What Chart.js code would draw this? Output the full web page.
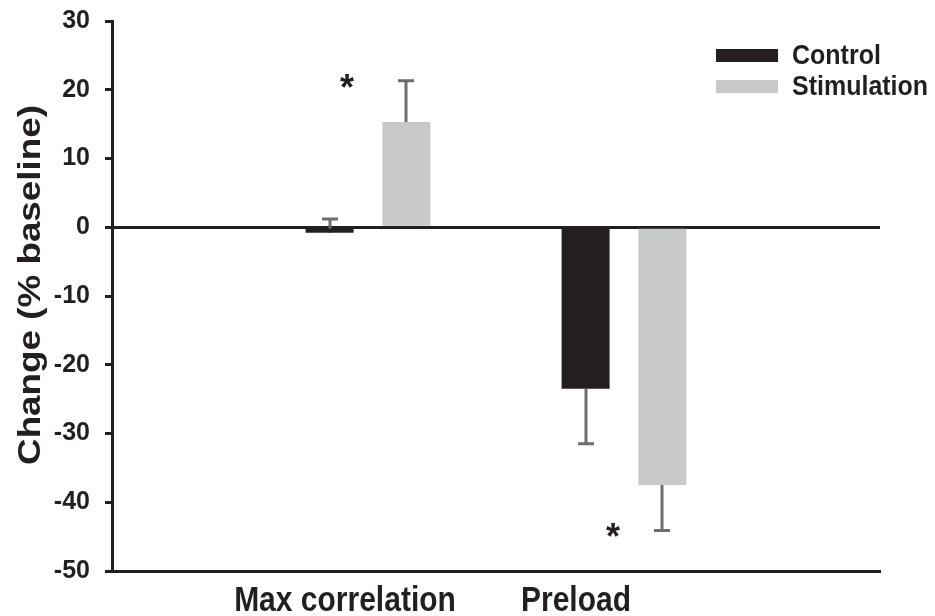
<!DOCTYPE html>
<html>
<head>
<meta charset="utf-8">
<script src="https://cdn.jsdelivr.net/npm/chart.js@4"></script>
<style>
  html, body { margin: 0; padding: 0; background: #ffffff; }
  #wrap { width: 935px; height: 616px; }
</style>
</head>
<body>
<div id="wrap"><canvas id="chart" width="935" height="616"></canvas></div>
<script>
// Percent change from baseline, per measure
const categories = ['Max correlation', 'Preload'];
const seriesNames = ['Control', 'Stimulation'];
const controlMean = [-0.8, -23.5];
const controlErr = [2.0, 8.0];
const stimMean = [15.3, -37.5];
const stimErr = [6.0, 6.6];
// error bars point up for Max correlation, down for Preload
const errDirection = [1, -1];
// significance markers (Stimulation vs Control)
const stimSignificant = [true, true];
const yTicks = [-50, -40, -30, -20, -10, 0, 10, 20, 30];

const INK = '#231f20';
const GREY = '#c8c9cb';
const ERR = '#6d6e71';
const FONT = "'Liberation Sans', Arial, Helvetica, sans-serif";
// the figure's lettering is slightly taller than it is wide
const STRETCH = 1.15;

// blank slots on both sides keep the two groups spaced evenly across the axis
const xLabels = [''].concat(categories, ['']);
const pad = arr => [null].concat(arr, [null]);

// horizontal nudges (px) for category captions and asterisks
const captionShift = [-23, -48];
const starShift = [-21, -11];

const errorBars = {
  id: 'errorBars',
  beforeDatasetsDraw(chart) {
    const ctx = chart.ctx;
    const y = chart.scales.y;
    const sets = [[controlMean, controlErr], [stimMean, stimErr]];
    ctx.save();
    ctx.strokeStyle = ERR;
    ctx.lineWidth = 3;
    sets.forEach(([means, errs], di) => {
      const meta = chart.getDatasetMeta(di);
      means.forEach((m, i) => {
        const bar = meta.data[i + 1];
        if (!bar) return;
        const x = Math.round(bar.x);
        const y0 = y.getPixelForValue(m);
        const y1 = y.getPixelForValue(m + errDirection[i] * errs[i]);
        ctx.beginPath();
        ctx.moveTo(x, y0);
        ctx.lineTo(x, y1);
        ctx.moveTo(x - 8, y1);
        ctx.lineTo(x + 8, y1);
        ctx.stroke();
      });
    });
    ctx.restore();
  }
};

const decorations = {
  id: 'decorations',
  afterDraw(chart) {
    const ctx = chart.ctx;
    const xs = chart.scales.x;
    const ys = chart.scales.y;
    ctx.save();
    ctx.fillStyle = INK;

    // category captions (baseline at y = 611)
    ctx.font = 'bold 30px ' + FONT;
    ctx.textAlign = 'center';
    ctx.textBaseline = 'alphabetic';
    categories.forEach((c, i) => {
      ctx.save();
      ctx.translate(xs.getPixelForValue(i + 1) + captionShift[i], 611);
      ctx.scale(1, STRETCH);
      ctx.fillText(c, 0, 0);
      ctx.restore();
    });

    // y axis title, reading bottom to top
    ctx.save();
    ctx.translate(31, 285);
    ctx.rotate(-Math.PI / 2);
    ctx.scale(STRETCH, 1);
    ctx.font = 'bold 32px ' + FONT;
    ctx.textAlign = 'center';
    ctx.textBaseline = 'middle';
    ctx.fillText('Change (% baseline)', 0, 0);
    ctx.restore();

    // significance asterisks at the level of the Stimulation error cap
    ctx.font = 'bold 36px ' + FONT;
    ctx.textAlign = 'center';
    ctx.textBaseline = 'alphabetic';
    const m = ctx.measureText('*');
    const half = (m.actualBoundingBoxAscent - m.actualBoundingBoxDescent) / 2;
    stimSignificant.forEach((sig, i) => {
      if (!sig) return;
      const v = stimMean[i] + errDirection[i] * stimErr[i];
      const cx = xs.getPixelForValue(i + 1) + starShift[i];
      const cy = ys.getPixelForValue(v);
      ctx.fillText('*', cx, cy + half);
    });

    // legend
    const colors = chart.data.datasets.map(d => d.backgroundColor);
    ctx.font = 'bold 25px ' + FONT;
    ctx.textAlign = 'left';
    ctx.textBaseline = 'middle';
    chart.data.datasets.forEach((d, i) => {
      const top = 49 + i * 31;
      ctx.fillStyle = colors[i];
      ctx.fillRect(716, top, 62, 13);
      ctx.fillStyle = INK;
      ctx.save();
      ctx.translate(792, top + 7);
      ctx.scale(1, STRETCH * 0.95);
      ctx.fillText(d.label, 0, 0);
      ctx.restore();
    });
    ctx.restore();
  }
};

new Chart(document.getElementById('chart'), {
  type: 'bar',
  data: {
    labels: xLabels,
    datasets: [
      { label: seriesNames[0], data: pad(controlMean), backgroundColor: INK },
      { label: seriesNames[1], data: pad(stimMean), backgroundColor: GREY }
    ]
  },
  options: {
    responsive: false,
    animation: false,
    events: [],
    categoryPercentage: 0.6,
    barPercentage: 0.625,
    layout: { padding: { top: 21, right: 55, left: 0, bottom: 0 } },
    plugins: {
      legend: { display: false },
      tooltip: { enabled: false },
      title: { display: false }
    },
    scales: {
      x: {
        offset: false,
        grid: { display: false },
        border: { display: true, color: INK, width: 3 },
        ticks: { display: false },
        afterFit(scale) { scale.height = 45; }
      },
      y: {
        min: -50,
        max: 30,
        afterBuildTicks(scale) { scale.ticks = yTicks.map(v => ({ value: v })); },
        grid: {
          drawOnChartArea: true,
          color: c => (c.tick && c.tick.value === 0 ? INK : 'rgba(0,0,0,0)'),
          lineWidth: 3,
          tickColor: INK,
          tickLength: 7,
          tickWidth: 3
        },
        border: { display: true, color: INK, width: 3 },
        ticks: {
          color: INK,
          padding: 15,
          font: { family: FONT, size: 25, weight: 'bold' }
        },
        afterFit(scale) {
          scale.width = 112;
          scale.paddingTop = 0;
          scale.paddingBottom = 0;
        }
      }
    }
  },
  plugins: [errorBars, decorations]
});
</script>
</body>
</html>
